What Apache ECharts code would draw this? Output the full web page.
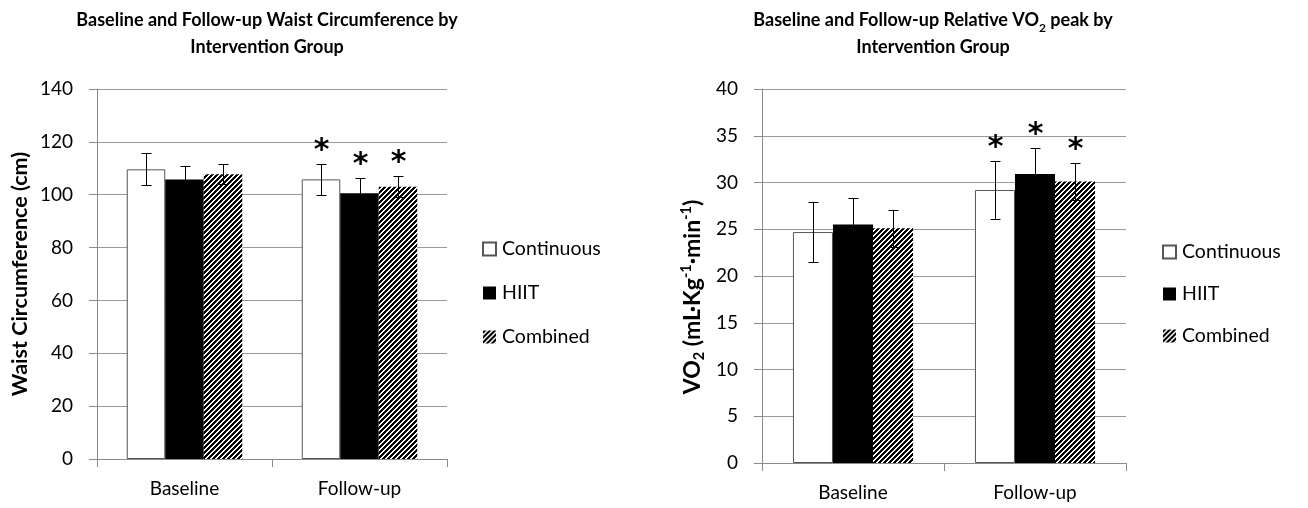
<!DOCTYPE html>
<html><head><meta charset="utf-8">
<script src="https://cdn.jsdelivr.net/npm/echarts@6/dist/echarts.min.js"></script>
<style>html,body{margin:0;padding:0;background:#fff}#c{width:1308px;height:508px}</style>
</head><body><div id="c"></div>
<script>
// ---- data ----
const categories = ['Baseline', 'Follow-up'];
const groups = ['Continuous', 'HIIT', 'Combined'];

const waistContinuous = [109.6, 105.8];
const waistHIIT = [105.8, 100.6];
const waistCombined = [107.7, 103.0];
const waistErrContinuous = [6.0, 6.0];
const waistErrHIIT = [5.2, 5.6];
const waistErrCombined = [3.8, 4.0];
const waistSignificant = [0, 1];
const waistTicks = [0, 20, 40, 60, 80, 100, 120, 140];

const vo2Continuous = [24.7, 29.2];
const vo2HIIT = [25.5, 30.9];
const vo2Combined = [25.1, 30.1];
const vo2ErrContinuous = [3.2, 3.1];
const vo2ErrHIIT = [2.8, 2.8];
const vo2ErrCombined = [2.0, 2.0];
const vo2Significant = [0, 1];
const vo2Ticks = [0, 5, 10, 15, 20, 25, 30, 35, 40];

// ---- styling ----
const FONT = 'Lato';
const GAP = 0.34;
const gridColor = '#9a9a9a';
const axisColor = '#8a8a8a';

function hatchCanvas() {
  const n = 10, p = 5;
  const c = document.createElement('canvas');
  c.width = n; c.height = n;
  const ctx = c.getContext('2d');
  const img = ctx.createImageData(n, n);
  for (let y = 0; y < n; y++) for (let x = 0; x < n; x++) {
    const i = (y * n + x) * 4;
    const v = ((x + y) % p) < 3 ? 0 : 255;
    img.data[i] = img.data[i + 1] = img.data[i + 2] = v;
    img.data[i + 3] = 255;
  }
  ctx.putImageData(img, 0, 0);
  return c;
}
const hatch = { image: hatchCanvas(), repeat: 'repeat' };

const barStyles = [
  { color: '#ffffff', borderColor: '#555555', borderWidth: 1 },
  { color: '#000000', borderColor: '#000000', borderWidth: 0 },
  { color: hatch, borderWidth: 0 }
];

function errData(means, errs, sig) {
  const out = [];
  means.forEach((m, g) => {
    m.forEach((v, c) => out.push([c, g, v, errs[g][c], sig[c]]));
  });
  return out;
}

function renderErr(params, api) {
  const c = api.value(0), g = api.value(1), m = api.value(2), e = api.value(3), s = api.value(4);
  const band = api.size([1, 0])[0];
  const bw = band * (1 - GAP) / 3;
  const x = Math.round(api.coord([c, m])[0] + (g - 1) * bw) + 0.5;
  const top = Math.round(api.coord([c, m + e])[1]) + 0.5;
  const bot = Math.round(api.coord([c, m - e])[1]) + 0.5;
  const cap = 5;
  const st = { stroke: '#000', lineWidth: 1 };
  const children = [
    { type: 'line', shape: { x1: x, y1: top, x2: x, y2: bot }, style: st },
    { type: 'line', shape: { x1: x - cap, y1: top, x2: x + cap, y2: top }, style: st },
    { type: 'line', shape: { x1: x - cap, y1: bot, x2: x + cap, y2: bot }, style: st }
  ];
  if (s) {
    children.push({ type: 'text', style: { text: '*', x: x, y: top + 2, align: 'center', verticalAlign: 'bottom',
      font: 'bold 30px "DejaVu Sans"', fill: '#000' } });
  }
  return { type: 'group', children };
}

function barSeries(name, data, gi, idx) {
  return {
    name, type: 'bar', xAxisIndex: idx, yAxisIndex: idx, data,
    barGap: '0%', barCategoryGap: (GAP * 100) + '%',
    itemStyle: barStyles[gi], emphasis: { disabled: true }, animation: false
  };
}

function valueAxis(idx, ticks, name, nameGap, extra) {
  return Object.assign({
    type: 'value', gridIndex: idx,
    min: ticks[0], max: ticks[ticks.length - 1], interval: ticks[1] - ticks[0],
    axisLine: { show: true, lineStyle: { color: axisColor, width: 1 } },
    axisTick: { show: true, length: 8, lineStyle: { color: axisColor } },
    splitLine: { show: true, lineStyle: { color: gridColor, width: 1 } },
    axisLabel: { color: '#000', fontFamily: FONT, fontSize: 19, margin: 24 },
    name, nameLocation: 'middle', nameGap,
    nameTextStyle: { color: '#000', fontFamily: FONT, fontSize: 21.5, fontWeight: 'bold' }
  }, extra || {});
}

function catAxis(idx) {
  return {
    type: 'category', gridIndex: idx, data: categories,
    axisLine: { show: true, lineStyle: { color: axisColor } },
    axisTick: { show: true, length: 8, lineStyle: { color: axisColor } },
    axisLabel: { color: '#000', fontFamily: FONT, fontSize: 19, margin: 20 }
  };
}

function legend(left, top, gap) {
  return {
    data: groups, orient: 'vertical', left, top,
    itemWidth: 13, itemHeight: 13, itemGap: gap, selectedMode: false,
    icon: 'rect',
    textStyle: { color: '#000', fontFamily: FONT, fontSize: 19.5, padding: [0, 0, 0, 1] }
  };
}

const titleStyle = { color: '#000', fontFamily: FONT, fontSize: 18, fontWeight: 'bold', lineHeight: 27,
  rich: { sub: { fontFamily: FONT, fontSize: 12, fontWeight: 'bold', verticalAlign: 'bottom', lineHeight: 20, color: '#000' } } };

const option = {
  backgroundColor: '#fff',
  animation: false,
  title: [
    { text: 'Baseline and Follow-up Waist Circumference by\nIntervention Group', left: 262, top: 2, textAlign: 'center', textStyle: titleStyle },
    { text: 'Baseline and Follow-up Relative VO{sub|2} peak by\nIntervention Group', left: 928, top: 2, textAlign: 'center', textStyle: titleStyle }
  ],
  legend: [legend(477, 234, 24), legend(1157, 237, 22)],
  grid: [
    { left: 97, top: 89, width: 350, height: 370 },
    { left: 762, top: 89, width: 364, height: 374 }
  ],
  xAxis: [catAxis(0), catAxis(1)],
  yAxis: [
    valueAxis(0, waistTicks, 'Waist Circumference (cm)', 66),
    valueAxis(1, vo2Ticks, '{b|VO}{sub|2}{b| (mL·Kg}{sup|-1}{b|·min}{sup|-1}{b|)}', 55, {
      nameTextStyle: {
        color: '#000', fontFamily: FONT, fontSize: 23, fontWeight: 'bold', padding: [0, 42, 0, 0],
        rich: {
          b: { fontFamily: FONT, fontSize: 23, fontWeight: 'bold', color: '#000', lineHeight: 28 },
          sub: { fontFamily: FONT, fontSize: 14.5, fontWeight: 'bold', color: '#000', verticalAlign: 'bottom', lineHeight: 14 },
          sup: { fontFamily: FONT, fontSize: 14.5, fontWeight: 'bold', color: '#000', verticalAlign: 'top', lineHeight: 14 }
        }
      }
    })
  ],
  series: [
    barSeries('Continuous', waistContinuous, 0, 0),
    barSeries('HIIT', waistHIIT, 1, 0),
    barSeries('Combined', waistCombined, 2, 0),
    barSeries('Continuous', vo2Continuous, 0, 1),
    barSeries('HIIT', vo2HIIT, 1, 1),
    barSeries('Combined', vo2Combined, 2, 1),
    { type: 'custom', xAxisIndex: 0, yAxisIndex: 0, z: 10, renderItem: renderErr, silent: true,
      data: errData([waistContinuous, waistHIIT, waistCombined], [waistErrContinuous, waistErrHIIT, waistErrCombined], waistSignificant) },
    { type: 'custom', xAxisIndex: 1, yAxisIndex: 1, z: 10, renderItem: renderErr, silent: true,
      data: errData([vo2Continuous, vo2HIIT, vo2Combined], [vo2ErrContinuous, vo2ErrHIIT, vo2ErrCombined], vo2Significant) }
  ]
};

const chart = echarts.init(document.getElementById('c'), null, { renderer: 'canvas' });
chart.setOption(option);
</script>
</body></html>
